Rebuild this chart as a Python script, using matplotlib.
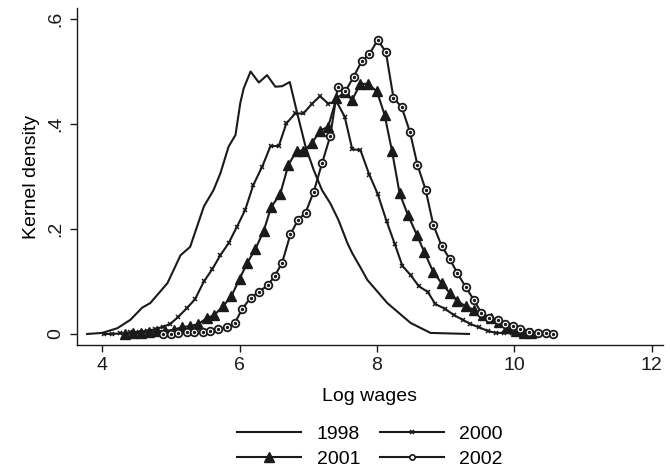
import matplotlib
matplotlib.use("Agg")
import matplotlib.pyplot as plt
from matplotlib.lines import Line2D

plt.rcParams['font.family'] = ['Liberation Sans', 'DejaVu Sans']

# ---- data ----
x1998 = [3.78, 4.00, 4.22, 4.41, 4.58, 4.70, 4.95, 5.14, 5.28, 5.48, 5.62, 5.72, 5.84,
         5.94, 6.01, 6.06, 6.16, 6.28, 6.40, 6.52, 6.62, 6.73, 6.84, 6.96, 7.08, 7.20,
         7.32, 7.44, 7.57, 7.64, 7.78, 7.86, 8.15, 8.49, 8.78, 9.34]
y1998 = [0.000, 0.002, 0.011, 0.027, 0.050, 0.059, 0.097, 0.150, 0.166, 0.243, 0.274,
         0.306, 0.357, 0.379, 0.440, 0.468, 0.500, 0.479, 0.493, 0.471, 0.472, 0.480,
         0.420, 0.357, 0.312, 0.274, 0.249, 0.217, 0.173, 0.154, 0.122, 0.103, 0.059,
         0.021, 0.002, 0.000]

x2000 = [4.02, 4.14, 4.26, 4.41, 4.53, 4.65, 4.77, 4.89, 4.99, 5.11, 5.23, 5.35, 5.48,
         5.60, 5.72, 5.84, 5.96, 6.08, 6.20, 6.33, 6.45, 6.57, 6.68, 6.81, 6.93, 7.05,
         7.17, 7.29, 7.41, 7.53, 7.64, 7.76, 7.89, 8.01, 8.14, 8.26, 8.37, 8.49, 8.61,
         8.74, 8.85, 8.99, 9.12, 9.25, 9.36, 9.48, 9.61, 9.73, 9.85, 9.97, 10.09]
y2000 = [0.000, 0.000, 0.001, 0.003, 0.004, 0.006, 0.009, 0.014, 0.019, 0.033, 0.049,
         0.066, 0.100, 0.123, 0.150, 0.173, 0.204, 0.236, 0.284, 0.319, 0.358, 0.358,
         0.401, 0.420, 0.420, 0.438, 0.453, 0.439, 0.443, 0.414, 0.352, 0.350, 0.303,
         0.267, 0.215, 0.171, 0.130, 0.112, 0.091, 0.080, 0.057, 0.048, 0.036, 0.027,
         0.019, 0.013, 0.006, 0.002, 0.002, 0.001, 0.000]

x2001 = [4.33, 4.45, 4.57, 4.68, 4.80, 4.92, 5.04, 5.16, 5.28, 5.40, 5.52, 5.63, 5.76,
         5.88, 6.00, 6.11, 6.23, 6.35, 6.46, 6.59, 6.71, 6.83, 6.93, 7.05, 7.17, 7.29,
         7.41, 7.53, 7.64, 7.76, 7.87, 8.00, 8.11, 8.22, 8.33, 8.45, 8.58, 8.69, 8.82,
         8.94, 9.06, 9.17, 9.29, 9.41, 9.54, 9.66, 9.77, 9.90, 10.02, 10.14, 10.24]
y2001 = [0.000, 0.001, 0.002, 0.003, 0.005, 0.006, 0.008, 0.013, 0.015, 0.019, 0.030,
         0.036, 0.053, 0.072, 0.105, 0.135, 0.162, 0.196, 0.242, 0.266, 0.322, 0.349,
         0.349, 0.363, 0.387, 0.395, 0.449, 0.460, 0.446, 0.477, 0.476, 0.462, 0.418,
         0.348, 0.268, 0.227, 0.189, 0.156, 0.118, 0.097, 0.078, 0.063, 0.053, 0.046,
         0.036, 0.030, 0.023, 0.013, 0.006, 0.002, 0.002]

x2002 = [4.88, 5.00, 5.11, 5.23, 5.34, 5.47, 5.57, 5.69, 5.82, 5.93, 6.04, 6.16, 6.28,
         6.41, 6.51, 6.62, 6.74, 6.85, 6.96, 7.08, 7.20, 7.32, 7.43, 7.54, 7.66, 7.78,
         7.89, 8.01, 8.13, 8.24, 8.36, 8.48, 8.59, 8.71, 8.82, 8.94, 9.06, 9.17, 9.29,
         9.41, 9.52, 9.63, 9.76, 9.86, 9.98, 10.09, 10.21, 10.34, 10.46, 10.56]
y2002 = [0.000, 0.000, 0.002, 0.003, 0.003, 0.004, 0.006, 0.009, 0.013, 0.021, 0.048,
         0.069, 0.080, 0.093, 0.110, 0.136, 0.190, 0.217, 0.231, 0.271, 0.325, 0.377,
         0.471, 0.462, 0.490, 0.520, 0.533, 0.560, 0.537, 0.450, 0.432, 0.385, 0.322,
         0.274, 0.208, 0.168, 0.143, 0.116, 0.090, 0.065, 0.040, 0.030, 0.027, 0.019,
         0.015, 0.009, 0.004, 0.002, 0.002, 0.000]

xticks = [4, 6, 8, 10, 12]
yticks = [0, 0.2, 0.4, 0.6]
ytick_labels = ["0", ".2", ".4", ".6"]
labels = ["1998", "2000", "2001", "2002"]

# ---- figure ----
fig = plt.figure(figsize=(6.7, 4.69), dpi=100)
ax = fig.add_axes([0.1145, 0.2644, 0.8745, 0.7186])

lw = 1.5
c = "#1a1a1a"
st1998 = dict(color=c, lw=lw)
st2000 = dict(color=c, lw=lw, marker='x', ms=3.5, mew=1.1)
st2001 = dict(color=c, lw=lw, marker='^', ms=6.5, mfc=c, mec=c)
st2002 = dict(color=c, lw=lw, marker='o', ms=5.5, mfc='white', mec=c, mew=1.3)

ax.plot(x1998, y1998, **st1998)
ax.plot(x2000, y2000, **st2000)
ax.plot(x2001, y2001, **st2001)
ax.plot(x2002, y2002, **st2002)
ax.plot(x2002, y2002, color=c, lw=0, marker='o', ms=1.4, mfc=c, mec=c)

ax.set_xlim(3.628, 12.16)
ax.set_ylim(-0.021, 0.621)
ax.set_xticks(xticks)
ax.set_xticklabels([str(t) for t in xticks])
ax.set_yticks(yticks)
ax.set_yticklabels(ytick_labels, rotation=90, va='center')

for s in ['top', 'right']:
    ax.spines[s].set_visible(False)
for s in ['left', 'bottom']:
    ax.spines[s].set_linewidth(1.0)
    ax.spines[s].set_color(c)
ax.tick_params(axis='both', direction='out', length=5, width=1.0, colors=c,
               labelsize=14, pad=4)
ax.set_xlabel("Log wages", fontsize=14, labelpad=10)
ax.set_ylabel("Kernel density", fontsize=14, labelpad=5)

h1998 = Line2D([], [], **st1998)
h2000 = Line2D([], [], **st2000)
h2001 = Line2D([], [], **st2001)
h2002 = Line2D([], [], color=c, lw=lw, marker='o', ms=3.8, mfc='white', mec=c, mew=1.2)
# column-major order so rows read: 1998 2000 / 2001 2002
fig.legend([h1998, h2001, h2000, h2002], [labels[0], labels[2], labels[1], labels[3]],
           ncol=2, loc='center',
           bbox_to_anchor=(370 / 670, 1 - 446.5 / 469), frameon=False,
           fontsize=14, handlelength=3.3, handletextpad=0.8, columnspacing=1.0,
           labelspacing=0.35, numpoints=1)

fig.savefig("out.png", dpi=100)
